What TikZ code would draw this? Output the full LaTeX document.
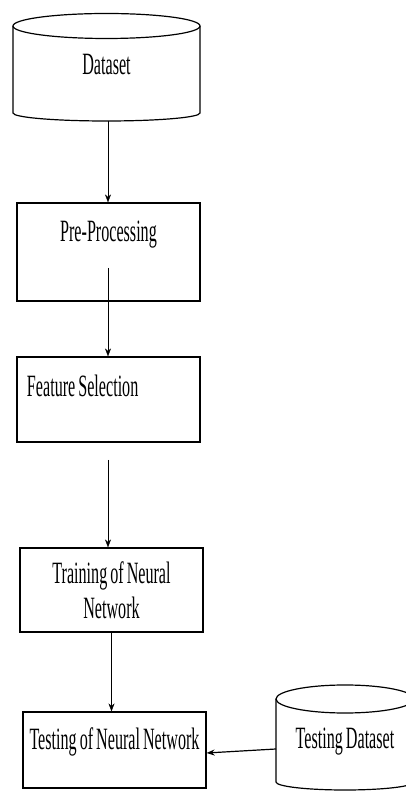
\documentclass[tikz,border=0pt]{standalone}
\usepackage{fontspec}
\setmainfont{Liberation Serif}[FakeStretch=0.52,WordSpace=0.75]
\usetikzlibrary{arrows.meta,calc}

\begin{document}
\begin{tikzpicture}[x=1pt,y=1pt,
  font=\fontsize{31pt}{35pt}\selectfont,
  >={Stealth[length=8pt,width=6pt]},
  box/.style={draw,line width=1.2pt,rectangle,inner sep=0pt,
    minimum width=183pt},
  drum/.style={line width=1.2pt}]
  \useasboundingbox (0,0) rectangle (406,793);
  % dataset drum
  \draw[drum] (13,767) -- (13,680)
  arc[start angle=180,end angle=360,x radius=93.5,y radius=8] -- (200,767);
  \draw[drum] (106.5,767) ellipse [x radius=93.5,y radius=12.5];
  \node (ds) at (106.5,728) {Dataset};
  \coordinate (dsb) at (108,672);
  % testing dataset drum
  \draw[drum] (276,94) -- (276,11)
  arc[start angle=180,end angle=360,x radius=69,y radius=8] -- (414,94);
  \draw[drum] (345,94) ellipse [x radius=69,y radius=14];
  \node (tds) at (345,51) {Testing Dataset};
  \coordinate (tdsw) at (276,44);
  % steps
  \node [box,text height=39pt,text depth=59pt] (pp)
  at (108.5,541) {Pre-Processing};
  \node [box,text height=40pt,text depth=45pt] (fs)
  at (108.5,393.5) {\makebox[163pt][l]{Feature Selection}};
  \node [box,minimum height=84pt,align=center] (tr)
  at (111.5,203) {Training of Neural\\Network};
  \node [box,text height=38pt,text depth=38pt] (tnn)
  at (114.5,43) {Testing of Neural Network};
  % loose ends
  \coordinate (ppin) at (108,525);
  \coordinate (fsout) at (108,333);
  % flow
  \draw[->] (dsb) -- (dsb |- pp.north);
  \draw[->] (ppin) -- (ppin |- fs.north);
  \draw[->] (fsout) -- (fsout |- tr.north);
  \draw[->] (tr.south) -- (tr.south |- tnn.north);
  \draw[->,line width=1.2pt] (tdsw) -- ([yshift=-3pt]tnn.east);
\end{tikzpicture}
\end{document}
